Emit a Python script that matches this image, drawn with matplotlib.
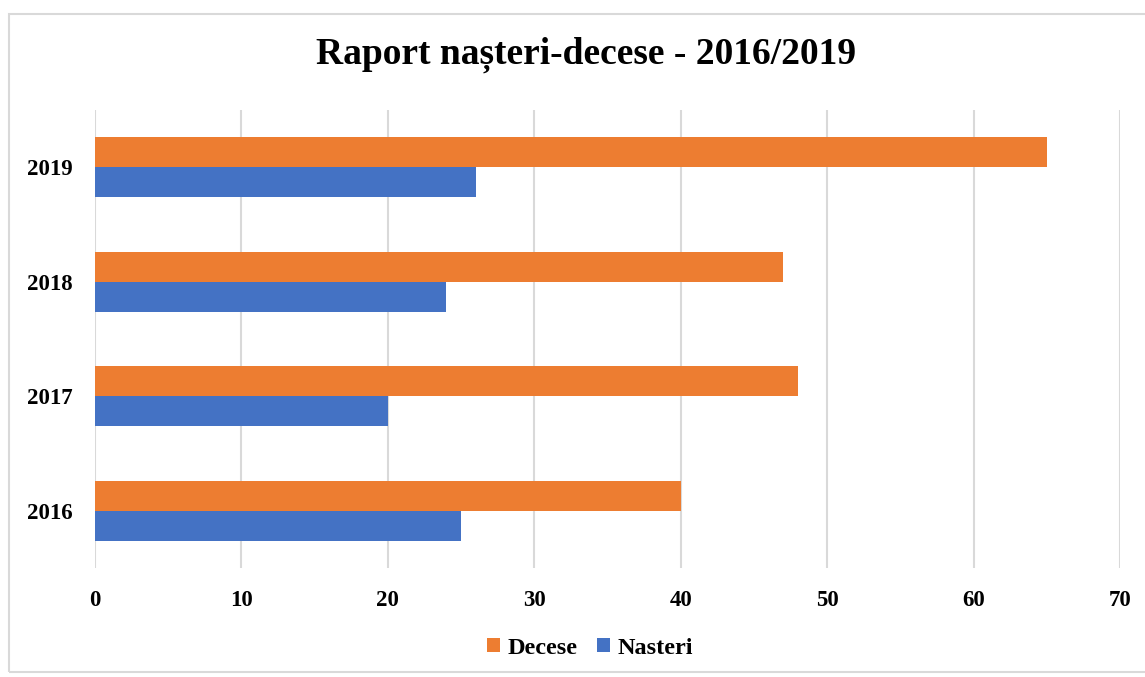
import numpy as np
import matplotlib.pyplot as plt
from matplotlib.patches import Rectangle

years = ["2016", "2017", "2018", "2019"]
nasteri = [25, 20, 24, 26]
decese = [40, 48, 47, 65]

plt.rcParams['font.family'] = ['Liberation Serif', 'DejaVu Serif']
plt.rcParams['font.weight'] = 'bold'

fig = plt.figure(figsize=(11.45, 6.77), dpi=100)
ax = fig.add_axes([95/1145, 1 - 568/677, (1120-95)/1145, (568-110)/677])

y = np.arange(len(years))
h = 0.26
ax.barh(y + h/2, decese, height=h, color='#ED7D31', label='Decese', zorder=3)
ax.barh(y - h/2, nasteri, height=h, color='#4472C4', label='Nasteri', zorder=3)

ax.set_xlim(0, 70)
ax.set_ylim(-0.5, len(years) - 0.5)
ax.set_xticks(range(0, 71, 10))
ax.set_yticks(y)
ax.set_yticklabels(years)
ax.tick_params(axis='both', length=0, labelsize=16.5)
ax.tick_params(axis='x', pad=16)
ax.tick_params(axis='y', pad=16)
ax.grid(axis='x', color='#D9D9D9', linewidth=1.5, zorder=0)
for s in ax.spines.values():
    s.set_visible(False)

fig.suptitle('Raport nașteri-decese - 2016/2019', fontsize=27, fontweight='bold',
             x=0.512, y=1 - 55/677, va='center')

ax.legend(loc='center', bbox_to_anchor=(0.483, (568-648)/458), ncol=2, frameon=False,
          fontsize=17.5, handlelength=0.55, handleheight=0.55, handletextpad=0.3,
          columnspacing=0.8)

# light gray chart border
fig.patches.append(Rectangle((9/1145, 5/677), 1.2, 1 - 19/677, transform=fig.transFigure,
                             fill=False, edgecolor='#D9D9D9', linewidth=1.5))

fig.savefig('out.png', dpi=100)
